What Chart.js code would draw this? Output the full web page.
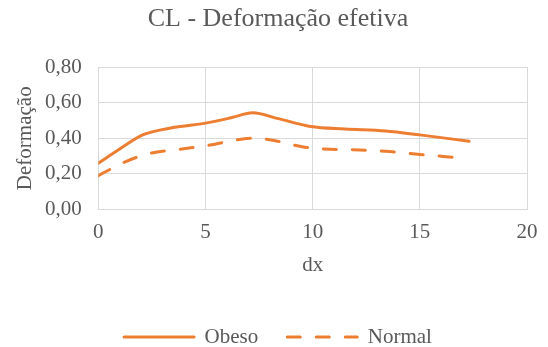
<!DOCTYPE html>
<html lang="pt">
<head>
  <meta charset="UTF-8" />
  <title>CL - Deformação efetiva</title>
  <script src="https://cdn.jsdelivr.net/npm/chart.js"></script>
  <style>
    body {
      margin: 0;
      background: #ffffff;
    }
    canvas {
      display: block;
    }
  </style>
</head>
<body>
  <canvas id="chart" width="548" height="347"></canvas>

  <script>
    // valeurs
    const seriesNames = ['Obeso', 'Normal'];
    const obesoX = [0, 1, 2.1, 3.5, 5, 6.2, 7.2, 8.4, 9.9, 11.5, 13.4, 15, 17.3];
    const obesoY = [0.26, 0.34, 0.42, 0.46, 0.485, 0.515, 0.543, 0.51, 0.466, 0.452, 0.441, 0.419, 0.383];
    const normalX = [0, 1.2, 2.4, 3.9, 5.2, 6.5, 7.3, 8.3, 9.5, 10.5, 12.2, 13.6, 15, 16.6];
    const normalY = [0.19, 0.265, 0.315, 0.34, 0.362, 0.392, 0.40, 0.385, 0.352, 0.34, 0.334, 0.325, 0.309, 0.293];

    const orange = '#ED7D31';
    const grey = '#595959';
    const gridColor = '#D9D9D9';
    const serif = '"Liberation Serif", "Times New Roman", serif';

    const toPoints = (xs, ys) => xs.map((x, i) => ({ x: x, y: ys[i] }));

    const ctx = document.getElementById('chart').getContext('2d');
    const chart = new Chart(ctx, {
      type: 'scatter',
      data: {
        datasets: [{
          label: seriesNames[0],
          data: toPoints(obesoX, obesoY),
          showLine: true,
          borderColor: orange,
          backgroundColor: orange,
          borderWidth: 3,
          pointRadius: 0,
          cubicInterpolationMode: 'monotone',
          borderCapStyle: 'round'
        }, {
          label: seriesNames[1],
          data: toPoints(normalX, normalY),
          showLine: true,
          borderColor: orange,
          backgroundColor: orange,
          borderWidth: 3,
          borderDash: [13, 16],
          pointRadius: 0,
          cubicInterpolationMode: 'monotone',
          borderCapStyle: 'round'
        }]
      },
      options: {
        responsive: false,
        animation: false,
        devicePixelRatio: 1,
        layout: {
          padding: { left: 17, right: 9, top: 0, bottom: -10.5 }
        },
        plugins: {
          title: {
            display: true,
            text: 'CL - Deformação efetiva',
            color: grey,
            font: { family: serif, size: 26, weight: 'normal' },
            padding: { top: 4, bottom: 31.8 }
          },
          legend: {
            position: 'bottom',
            labels: {
              color: grey,
              font: { family: serif, size: 21 },
              usePointStyle: true,
              pointStyle: 'line',
              pointStyleWidth: 70,
              padding: 29,
              // le style "line" ne reprend pas le pointillé du dataset
              generateLabels: c => {
                const items = Chart.defaults.plugins.legend.labels.generateLabels(c);
                items.forEach(item => {
                  const ds = c.data.datasets[item.datasetIndex];
                  item.lineDash = ds.borderDash || [];
                  item.lineCap = 'round';
                  item.lineWidth = ds.borderWidth;
                  item.strokeStyle = ds.borderColor;
                });
                return items;
              }
            }
          },
          tooltip: { enabled: false }
        },
        scales: {
          x: {
            type: 'linear',
            min: 0,
            max: 20,
            ticks: {
              stepSize: 5,
              color: grey,
              padding: 10.5,
              font: { family: serif, size: 21 }
            },
            grid: { color: gridColor, drawTicks: false },
            border: { color: gridColor },
            title: {
              display: true,
              text: 'dx',
              color: grey,
              font: { family: serif, size: 21 },
              padding: { top: -3.3, bottom: 19.9 }
            }
          },
          y: {
            min: 0,
            max: 0.8,
            ticks: {
              stepSize: 0.2,
              color: grey,
              padding: 16.6,
              font: { family: serif, size: 21 },
              callback: v => v.toFixed(2).replace('.', ',')
            },
            grid: { color: gridColor, drawTicks: false },
            border: { color: gridColor },
            title: {
              display: true,
              text: 'Deformação',
              color: grey,
              font: { family: serif, size: 21 },
              padding: { top: -4.6, bottom: 0 }
            },
            afterFit: scale => { scale.width = 81.3; }
          }
        }
      }
    });
  </script>
</body>
</html>
